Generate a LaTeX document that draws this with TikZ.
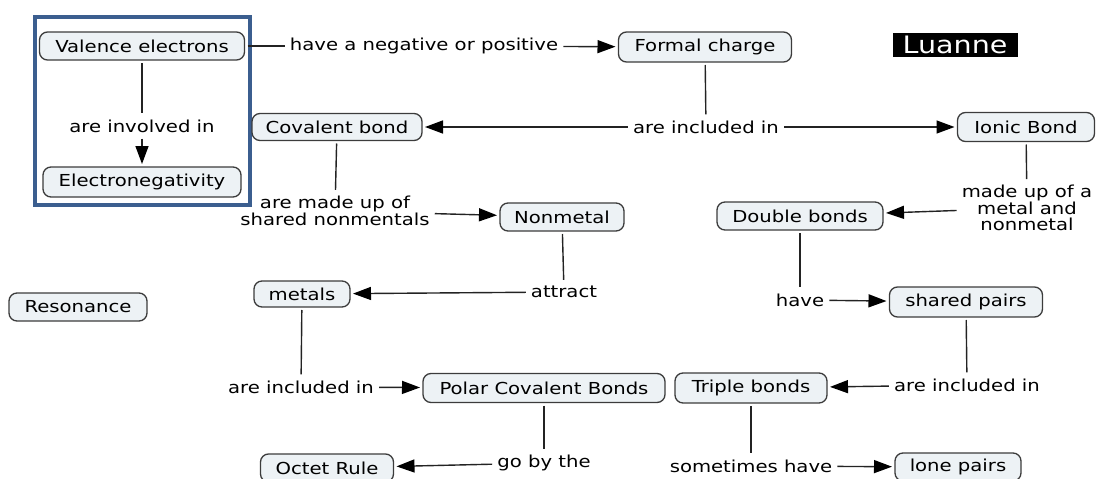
\documentclass[tikz,border=0pt]{standalone}
\usepackage{fontspec}
\setmainfont{DejaVu Sans}[FakeStretch=1.19]
\usetikzlibrary{arrows.meta}

\definecolor{boxfill}{RGB}{237,242,245}
\definecolor{boxline}{RGB}{60,60,60}
\definecolor{framecol}{RGB}{59,94,143}
\definecolor{linkcol}{RGB}{35,35,35}

\begin{document}
\begin{tikzpicture}[x=1pt,y=1pt,yscale=-1,xscale=1,
  concept/.style={draw=boxline,line width=1.3pt,fill=boxfill,rounded corners=8pt,
    minimum height=28pt,inner sep=0pt,outer sep=3pt,
    font=\fontsize{16.5}{15.5}\selectfont},
  linkword/.style={inner xsep=5pt,inner ysep=6pt,align=center,
    font=\fontsize{16.5}{15.5}\selectfont},
  link/.style={draw=linkcol,line width=1.4pt},
  arr/.style={link,-{Triangle[length=18pt,width=13pt,color=black]}},
  frame/.style={draw=framecol,line width=4pt}]
\useasboundingbox (0,0) rectangle (1096,479);

%Shape: Rectangle round the first pair
\draw [frame] (35,17) rectangle (250,205);

% Concepts
\node [concept,minimum width=205pt] (val) at (142,46) {Valence electrons};
\node [concept,minimum width=198pt,minimum height=30pt] (eneg) at (142,182) {Electronegativity};
\node [concept,minimum width=173pt,minimum height=30pt] (formal) at (705,47) {Formal charge};
\node [concept,minimum width=170pt,minimum height=27pt] (cov) at (337,127) {Covalent bond};
\node [concept,minimum width=137pt,minimum height=29pt] (ionic) at (1026,127) {Ionic Bond};
\node [concept,minimum width=124pt] (nonmetal) at (562,217) {Nonmetal};
\node [concept,minimum width=166pt] (double) at (800,216) {Double bonds};
\node [concept,minimum width=138pt] (reson) at (78,307) {Resonance};
\node [concept,minimum width=96pt,minimum height=26pt] (metals) at (302,294) {metals};
\node [concept,minimum width=153pt,minimum height=30pt] (shared) at (966,302) {shared pairs};
\node [concept,minimum width=242pt,minimum height=29pt] (polar) at (544,388) {Polar Covalent Bonds};
\node [concept,minimum width=152pt,minimum height=30pt] (triple) at (751,388) {Triple bonds};
\node [concept,minimum width=133pt] (octet) at (327,468) {Octet Rule};
\node [concept,minimum width=126pt] (lone) at (958,467) {lone pairs};

% Text Node
\node [fill=black,text=white,minimum width=125pt,minimum height=24pt,inner sep=0pt,
  font=\fontsize{24}{24}\selectfont] (author) at (955,45) {Luanne};

% Linking words
\node [linkword] (lhave) at (424,46) {have a negative or positive};
\node [linkword] (linv) at (142,126) {are involved in};
\node [linkword] (linc1) at (706,127) {are included in};
\node [linkword] (lmade) at (1027,208) {made up of a\\metal and\\nonmetal};
\node [linkword] (lshared) at (335,211) {are made up of\\shared nonmentals};
\node [linkword] (lattr) at (564,292) {attract};
\node [linkword] (lhave2) at (800,300) {have};
\node [linkword] (linc2) at (301,387) {are included in};
\node [linkword] (linc3) at (967,385) {are included in};
\node [linkword] (lgo) at (544,463) {go by the};
\node [linkword] (lsome) at (751,466) {sometimes have};

% Connectors
\draw [link] (val) -- (linv);
\draw [arr] (linv) -- (eneg);
\draw [link] (val) -- (lhave);
\draw [arr] (lhave) -- (formal);
\draw [link] (formal) -- (linc1);
\draw [arr] (linc1) -- (cov);
\draw [arr] (linc1) -- (ionic);
\draw [link] (ionic) -- (lmade);
\draw [arr] (lmade) -- (double);
\draw [link] (cov) -- (lshared);
\draw [arr] (lshared) -- (nonmetal);
\draw [link] (nonmetal) -- (lattr);
\draw [arr] (lattr) -- (metals);
\draw [link] (double) -- (lhave2);
\draw [arr] (lhave2) -- (shared);
\draw [link] (metals) -- (linc2);
\draw [arr] (linc2) -- (polar);
\draw [link] (shared) -- (linc3);
\draw [arr] (linc3) -- (triple);
\draw [link] (polar) -- (lgo);
\draw [arr] (lgo) -- (octet);
\draw [link] (triple) -- (lsome);
\draw [arr] (lsome) -- (lone);

\end{tikzpicture}
\end{document}
